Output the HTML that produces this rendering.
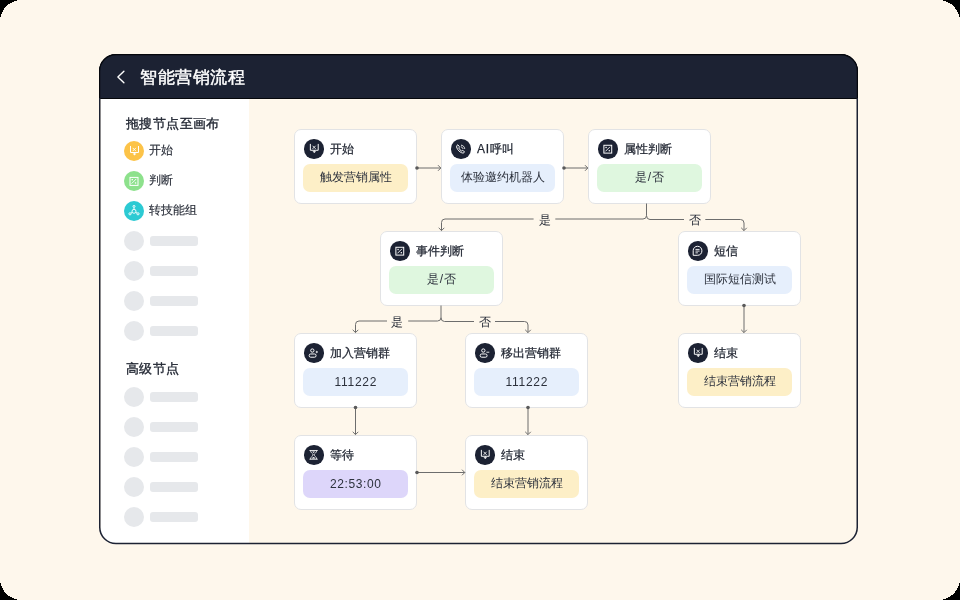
<!DOCTYPE html>
<html><head><meta charset="utf-8">
<style>
*{box-sizing:border-box;margin:0;padding:0}
html,body{width:960px;height:600px;overflow:hidden;background:#fef7ec;font-family:"Liberation Sans",sans-serif;color:#1f2430}
.abs{position:absolute}
#frame{position:absolute;left:99px;top:54px;width:759px;height:490px;border-radius:17px;overflow:hidden;background:#fef7eb}
#hdr{position:absolute;will-change:transform;left:0;top:0;right:0;height:45px;background:#1c2233;border:1px solid #07090e;border-bottom:1px solid #05070b;border-radius:17px 17px 0 0}
#side{position:absolute;will-change:transform;left:2px;top:45px;width:148px;bottom:0;background:#fff}
.card{position:absolute;will-change:transform;width:123px;height:75px;background:#fff;border:1px solid #e2e3e5;border-radius:7px}
.ic{position:absolute;left:9.2px;top:9px;width:19.6px;height:19.6px;border-radius:50%;background:#1c2233}
.ic svg{position:absolute;left:0;top:0;width:19.6px;height:19.6px}
.tt{position:absolute;left:35px;top:9.5px;-webkit-text-stroke:0.25px #1f2430;font-size:12px;line-height:18px;white-space:nowrap;color:#1f2430}
.pill{position:absolute;left:8px;top:34px;width:105px;height:28px;border-radius:7px;font-size:12px;line-height:27px;text-align:center;color:#2c313c}
.y{background:#fdefc7}.b{background:#e6effc}.g{background:#dff7df}.p{background:#ddd6fa}
.sk{position:absolute;left:22.8px;width:20px;height:20px;border-radius:50%;background:#e6e8eb}
.skb{position:absolute;left:49px;width:48px;height:10px;border-radius:3px;background:#e6e8eb}
.si{position:absolute;left:22.8px;width:20px;height:20px;border-radius:50%}.si svg{position:absolute;left:0;top:0}
.st{position:absolute;left:47.6px;-webkit-text-stroke:0.15px #2a2f3a;font-size:12px;line-height:18px;color:#2a2f3a}
.sh{position:absolute;left:25px;letter-spacing:0.4px;font-size:13px;-webkit-text-stroke:0.35px #1f2430;line-height:18px;color:#1f2430}
.lbl{position:absolute;will-change:transform;font-size:12px;line-height:14px;width:20px;text-align:center;color:#1f2430}
</style></head><body>
<svg width="0" height="0" style="position:absolute">
<defs>
<symbol id="i-tray" viewBox="0 0 20 20"><path d="M6.5 5V11.5H14.5V5" fill="none" stroke="#fff" stroke-width="1"/><path d="M8.7 6.9L11.9 10.1M11.9 6.9L8.7 10.1" fill="none" stroke="#fff" stroke-width="0.9"/><path d="M10.5 11.5V12.8" stroke="#fff" stroke-width="1"/><path d="M8.6 12.6H12.4L10.5 14.4Z" fill="#fff"/></symbol>
<symbol id="i-phone" viewBox="0 0 20 20"><path d="M6.9 5.9C5.8 6.5 5.4 7.7 6.1 9.3C7 11.4 8.7 13.1 10.8 14C12.2 14.6 13.4 14.2 13.8 13.3L12.6 11.9C12.2 11.5 11.7 11.6 11.3 12L10.9 12.3C9.6 11.7 8.5 10.5 7.9 9.2L8.2 8.8C8.6 8.4 8.7 7.9 8.3 7.4Z" fill="none" stroke="#fff" stroke-width="1"/><path d="M10.6 6.3C12.3 6.5 13.8 7.9 14 9.7M10.4 8.1C11.3 8.2 12 8.9 12.2 9.8" fill="none" stroke="#fff" stroke-width="0.9" stroke-linecap="round"/></symbol>
<symbol id="i-judge" viewBox="0 0 20 20"><rect x="6" y="6.4" width="8" height="8" fill="none" stroke="#fff" stroke-width="1"/><path d="M7.6 12.6L12.3 7.9" stroke="#fff" stroke-width="0.9"/><rect x="7.6" y="8" width="1.3" height="1.3" fill="#fff"/><rect x="10.9" y="11.3" width="1.3" height="1.3" fill="#fff"/></symbol>
<symbol id="i-sms" viewBox="0 0 20 20"><path d="M5.3 14.6V9.9C5.3 7.2 7.2 5.4 9.8 5.4C12.4 5.4 14.2 7.4 14.2 10C14.2 12.7 12.3 14.6 9.8 14.6Z" fill="none" stroke="#fff" stroke-width="1" stroke-linejoin="round"/><path d="M7.6 8.6H11.8M7.6 10.3H11.8M7.6 12.1H10.1" stroke="#fff" stroke-width="0.9"/></symbol>
<symbol id="i-uadd" viewBox="0 0 20 20"><circle cx="8.5" cy="7.7" r="1.7" fill="none" stroke="#fff" stroke-width="1"/><rect x="5.3" y="11.2" width="7" height="3.3" rx="1.5" fill="none" stroke="#fff" stroke-width="1"/><path d="M13.1 7.6L13.6 8.7L14.7 9.2L13.6 9.7L13.1 10.8L12.6 9.7L11.5 9.2L12.6 8.7Z" fill="#fff"/></symbol>
<symbol id="i-udel" viewBox="0 0 20 20"><circle cx="8.5" cy="7.7" r="1.7" fill="none" stroke="#fff" stroke-width="1"/><rect x="5.3" y="11.2" width="7" height="3.3" rx="1.5" fill="none" stroke="#fff" stroke-width="1"/><path d="M11.6 9.4H14.6" stroke="#fff" stroke-width="0.9"/></symbol>
<symbol id="i-wait" viewBox="0 0 20 20"><path d="M5.6 5.6H14M5.6 14.5H14" stroke="#fff" stroke-width="0.9"/><path d="M6.6 5.6C6.8 8.2 9.3 8.9 9.3 10C9.3 11.1 6.8 11.8 6.6 14.5M13 5.6C12.8 8.2 10.3 8.9 10.3 10C10.3 11.1 12.8 11.8 13 14.5" fill="none" stroke="#fff" stroke-width="0.8"/><path d="M8.2 6.6H11.4L9.8 8.1Z" fill="#fff"/><path d="M8 13.9C8.3 13 9.2 12.4 9.8 12.3C10.4 12.4 11.3 13 11.6 13.9Z" fill="#fff"/></symbol>
<symbol id="i-net" viewBox="0 0 20 20"><circle cx="10" cy="10.3" r="2" fill="none" stroke="#fff" stroke-width="0.9"/><circle cx="10" cy="5.4" r="1" fill="none" stroke="#fff" stroke-width="0.9"/><circle cx="6" cy="12.8" r="1.1" fill="none" stroke="#fff" stroke-width="0.9"/><circle cx="14" cy="12.8" r="1.1" fill="none" stroke="#fff" stroke-width="0.9"/><path d="M10 6.4V8.3M8.2 11.3L7 12.1M11.8 11.3L13 12.1" fill="none" stroke="#fff" stroke-width="0.9"/></symbol>
</defs></svg>
<div id="frame">
  <div id="hdr">
    <svg class="abs" style="left:15px;top:15px" width="12" height="14" viewBox="0 0 12 14"><path d="M8.9 1.2 L2.9 7 L8.9 12.8" fill="none" stroke="#fff" stroke-width="1.4" stroke-linecap="round" stroke-linejoin="round"/></svg>
    <div class="abs" style="left:40px;top:11.5px;font-size:17px;-webkit-text-stroke:0.45px #fff;letter-spacing:0.6px;line-height:22px;color:#fff;white-space:nowrap">智能营销流程</div>
  </div>
  <div id="side">
    <div class="sh" style="top:16px">拖搜节点至画布</div>
    <div class="si" style="top:42px;background:#fcc348"><svg width="20" height="20"><use href="#i-tray"/></svg></div><div class="st" style="top:42px">开始</div>
    <div class="si" style="top:72px;background:#8de18c"><svg width="20" height="20"><use href="#i-judge"/></svg></div><div class="st" style="top:72px">判断</div>
    <div class="si" style="top:102px;background:#2ccad3"><svg width="20" height="20"><use href="#i-net"/></svg></div><div class="st" style="top:102px">转技能组</div>
    <div class="sk" style="top:132px"></div><div class="skb" style="top:137px"></div>
    <div class="sk" style="top:162px"></div><div class="skb" style="top:167px"></div>
    <div class="sk" style="top:192px"></div><div class="skb" style="top:197px"></div>
    <div class="sk" style="top:222px"></div><div class="skb" style="top:227px"></div>
    <div class="sh" style="top:261px">高级节点</div>
    <div class="sk" style="top:288px"></div><div class="skb" style="top:293px"></div>
    <div class="sk" style="top:318px"></div><div class="skb" style="top:323px"></div>
    <div class="sk" style="top:348px"></div><div class="skb" style="top:353px"></div>
    <div class="sk" style="top:378px"></div><div class="skb" style="top:383px"></div>
    <div class="sk" style="top:408px"></div><div class="skb" style="top:413px"></div>
  </div>
</div>

<svg class="abs" style="left:0;top:0" width="960" height="600"><rect x="99.75" y="54.75" width="757.5" height="488.75" rx="16.25" fill="none" stroke="#1c2233" stroke-width="1.5"/><path d="M99.6 98V71A16.4 16.4 0 0 1 116 54.6H841A16.4 16.4 0 0 1 857.4 71V98" fill="none" stroke="#05070c" stroke-width="1.2"/></svg>
<div class="card" style="left:294px;top:129px"><div class="ic"><svg width="20" height="20"><use href="#i-tray"/></svg></div><div class="tt">开始</div><div class="pill y">触发营销属性</div></div>
<div class="card" style="left:441px;top:129px"><div class="ic"><svg width="20" height="20"><use href="#i-phone"/></svg></div><div class="tt" style="letter-spacing:0.7px">AI呼叫</div><div class="pill b">体验邀约机器人</div></div>
<div class="card" style="left:588px;top:129px"><div class="ic"><svg width="20" height="20"><use href="#i-judge"/></svg></div><div class="tt">属性判断</div><div class="pill g">是<span style="margin:0 1.2px">/</span>否</div></div>
<div class="card" style="left:379.5px;top:231px"><div class="ic"><svg width="20" height="20"><use href="#i-judge"/></svg></div><div class="tt">事件判断</div><div class="pill g">是<span style="margin:0 1.2px">/</span>否</div></div>
<div class="card" style="left:678px;top:231px"><div class="ic"><svg width="20" height="20"><use href="#i-sms"/></svg></div><div class="tt">短信</div><div class="pill b">国际短信测试</div></div>
<div class="card" style="left:294px;top:333px"><div class="ic"><svg width="20" height="20"><use href="#i-uadd"/></svg></div><div class="tt">加入营销群</div><div class="pill b" style="letter-spacing:0.7px;text-indent:0.7px;line-height:28.5px">111222</div></div>
<div class="card" style="left:465px;top:333px"><div class="ic"><svg width="20" height="20"><use href="#i-udel"/></svg></div><div class="tt">移出营销群</div><div class="pill b" style="letter-spacing:0.7px;text-indent:0.7px;line-height:28.5px">111222</div></div>
<div class="card" style="left:678px;top:333px"><div class="ic"><svg width="20" height="20"><use href="#i-tray"/></svg></div><div class="tt">结束</div><div class="pill y">结束营销流程</div></div>
<div class="card" style="left:294px;top:435px"><div class="ic"><svg width="20" height="20"><use href="#i-wait"/></svg></div><div class="tt">等待</div><div class="pill p" style="letter-spacing:0.6px;text-indent:0.6px;line-height:28.5px">22:53:00</div></div>
<div class="card" style="left:465px;top:435px"><div class="ic"><svg width="20" height="20"><use href="#i-tray"/></svg></div><div class="tt">结束</div><div class="pill y">结束营销流程</div></div>

<svg class="abs" style="left:0;top:0" width="960" height="600" viewBox="0 0 960 600">
<g fill="none" stroke="#6d6d6d" stroke-width="1">
<path d="M417 168H440.8"/><path d="M438 165.2L440.8 168L438 170.8"/>
<path d="M564 168H587.8"/><path d="M585 165.2L587.8 168L585 170.8"/>
<path d="M646.5 203.5V215.5Q646.5 219 643 219H555.3M533.6 219H445Q441.5 219 441.5 222.5V230.6"/><path d="M438.7 227.8L441.5 230.6L444.3 227.8"/>
<path d="M646.5 215.5Q646.5 219.5 650 219.5H684M705.3 219.5H740.5Q744 219.5 744 223V230.6"/><path d="M741.2 227.8L744 230.6L746.8 227.8"/>
<path d="M441 305.5V317.5Q441 321 437.5 321H408.2M387 321H359Q355.5 321 355.5 324.5V332.6"/><path d="M352.7 329.8L355.5 332.6L358.3 329.8"/>
<path d="M441 317.5Q441 321.5 444.5 321.5H474M495 321.5H524.5Q528 321.5 528 325V332.6"/><path d="M525.2 329.8L528 332.6L530.8 329.8"/>
<path d="M744 305.5V332.6"/><path d="M741.2 329.8L744 332.6L746.8 329.8"/>
<path d="M355.5 407.5V434.6"/><path d="M352.7 431.8L355.5 434.6L358.3 431.8"/>
<path d="M528 407.5V434.6"/><path d="M525.2 431.8L528 434.6L530.8 431.8"/>
<path d="M417 472.5H464.8"/><path d="M462 469.7L464.8 472.5L462 475.3"/>
</g>
<g fill="#5a5a5a"><circle cx="417" cy="168" r="1.8"/><circle cx="564" cy="168" r="1.8"/><circle cx="744" cy="305.5" r="1.8"/><circle cx="355.5" cy="407.5" r="1.8"/><circle cx="528" cy="407.5" r="1.8"/><circle cx="417" cy="472.5" r="1.8"/></g>
</svg>
<div class="lbl" style="left:534.5px;top:212.7px">是</div>
<div class="lbl" style="left:684.7px;top:212.7px">否</div>
<div class="lbl" style="left:387.3px;top:314.7px">是</div>
<div class="lbl" style="left:474.5px;top:314.7px">否</div>
<svg class="abs" style="left:0;top:0" width="960" height="600" shape-rendering="crispEdges"><path fill="#000" d="M0 0H21.5A21.5 21.5 0 0 0 0 21.5Z M960 0V21.5A21.5 21.5 0 0 0 938.5 0Z M960 600H938.5A21.5 21.5 0 0 0 960 578.5Z M0 600V578.5A21.5 21.5 0 0 0 21.5 600Z"/></svg>
</body></html>
